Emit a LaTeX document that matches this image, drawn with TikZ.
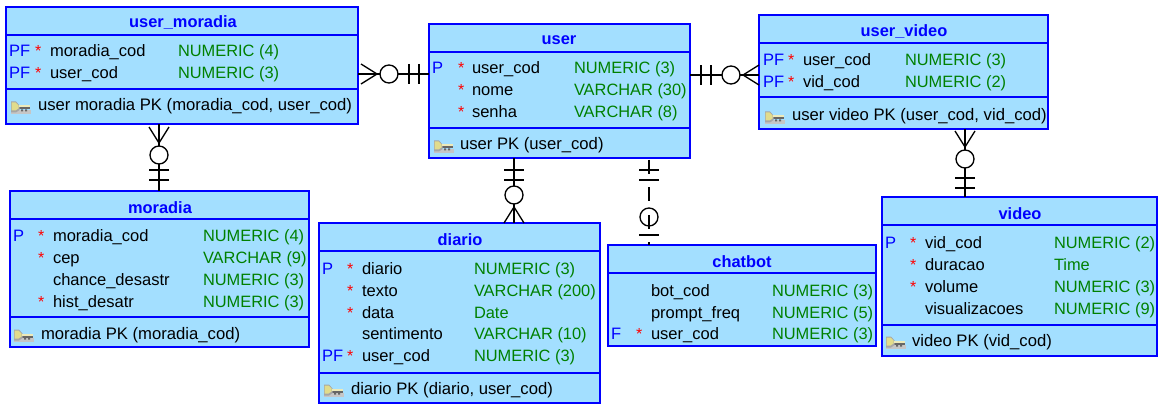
\documentclass[tikz,border=0pt]{standalone}
\usepackage{fontspec}
\setmainfont{Liberation Sans}
\definecolor{tblblue}{RGB}{0,0,255}
\definecolor{tblfill}{RGB}{163,223,255}
\definecolor{typegreen}{RGB}{0,128,0}
\definecolor{keygold}{RGB}{225,220,140}
\tikzset{
	txt/.style={inner sep=0, outer sep=0, font=\fontsize{12}{14}\selectfont},
	tblbox/.style={draw=tblblue, fill=tblfill, line width=1.5pt, inner sep=0, outer sep=0},
	tblsep/.style={draw=tblblue, line width=1.5pt},
	tblname/.style={txt, anchor=base, text=tblblue, font=\fontsize{12.3}{14}\selectfont\bfseries},
	tblkey/.style={txt, anchor=base west, text=tblblue, font=\fontsize{12.4}{14}\selectfont},
	tblstar/.style={txt, anchor=base west, text=red},
	tblcol/.style={txt, anchor=base west, font=\fontsize{12.4}{14}\selectfont},
	tbltype/.style={txt, anchor=base west, text=typegreen, font=\fontsize{12.3}{14}\selectfont},
	tblpk/.style={txt, anchor=base west, font=\fontsize{12.5}{14}\selectfont},
	link/.style={line width=1pt},
	manyend/.pic={
		\draw [link] (#1,-10) -- (#1+16,0) -- (#1,10);
		\draw [link, fill=white] (#1+28,0) circle [radius=9];
	},
	zeroend/.pic={
		\draw [link] (#1,0) circle [radius=9];
	},
	onebars/.pic={
		\draw [link] (-#1,-10) -- (-#1,10);
		\draw [link] (-#1-10,-10) -- (-#1-10,10);
	},
	onebar/.pic={
		\draw [link] (-#1,-10) -- (-#1,10);
	},
	keyicon/.pic={
		\fill [gray!45] (1,3) rectangle (21,7);
		\fill [black!60] (9,0.5) rectangle (20,2.5);
		\fill [black!60] (11,2.5) rectangle (13,4.5) (15,2.5) rectangle (17,4.5);
		\fill [gray!70] (1,-5.5) -- (6,-5.5) -- (9.5,-1.5) -- (9.5,3) -- (6,5.5) -- (1,5.5) -- cycle;
		\fill [keygold] (1.5,-4.5) -- (5.5,-4.5) -- (8.5,-1.5) -- (8.5,1.5) -- (5.5,3.5) -- (1.5,3.5) -- cycle;
		\fill [keygold!60!white] (8.5,-1.5) rectangle (20,0.5);
	}
}
%one table: name, left, top, right, bottom
\newcommand{\tblframe}[5]{
	\pgfmathsetmacro{\tblw}{(#4-#2)*0.75}
	\pgfmathsetmacro{\tblh}{(#5-#3)*0.75}
	\node [tblbox, minimum width=\tblw pt, minimum height=\tblh pt] (#1) at ({(#2+#4)/2}, {(#3+#5)/2}) {};
}
%separator of a table at height y
\newcommand{\tblline}[2]{
	\draw [tblsep] (#1.west |- 0,#2) -- (#1.east |- 0,#2);
}
%rows: name, x key, x star, x column, x type, list
\newcommand{\tblrows}[6]{
	\foreach \rk/\rs/\rc/\rt/\ry [count=\ri] in {#6}
	{
		\ifx\rk\empty\else\node [tblkey] (#1k\ri) at (#2, \ry) {\rk};\fi
		\ifx\rs\empty\else\node [tblstar] (#1s\ri) at (#3, \ry) {\rs};\fi
		\node [tblcol] (#1c\ri) at (#4, \ry) {\rc};
		\node [tbltype] (#1t\ri) at (#5, \ry) {\rt};
	}
}
\begin{document}
\begin{tikzpicture}[x=0.75pt, y=-0.75pt]
	\useasboundingbox (0,0) rectangle (1166,417);

	%user_moradia
	\tblframe{umor}{6}{7}{358}{124}
	\tblline{umor}{35}
	\tblline{umor}{89}
	\node [tblname] (umorname) at (183,28) {user\_moradia};
	\tblrows{umor}{9}{35}{50}{178}{PF/*/moradia\_cod/NUMERIC (4)/57, PF/*/user\_cod/NUMERIC (3)/79}
	\pic at (10,107) {keyicon};
	\node [tblpk] (umorpk) at (38,111) {user moradia PK (moradia\_cod, user\_cod)};

	%user
	\tblframe{user}{429}{24}{690}{158}
	\tblline{user}{52}
	\tblline{user}{128}
	\node [tblname] (username) at (559,45) {user};
	\tblrows{user}{432}{458}{472}{574}{P/*/user\_cod/NUMERIC (3)/74, /*/nome/VARCHAR (30)/96, /*/senha/VARCHAR (8)/118}
	\pic at (433,146) {keyicon};
	\node [tblpk] (userpk) at (460,150) {user PK (user\_cod)};

	%user_video
	\tblframe{uvid}{759}{15}{1048}{129}
	\tblline{uvid}{43}
	\tblline{uvid}{97}
	\node [tblname] (uvidname) at (904,37) {user\_video};
	\tblrows{uvid}{763}{788}{803}{905}{PF/*/user\_cod/NUMERIC (3)/66, PF/*/vid\_cod/NUMERIC (2)/88}
	\pic at (764,117) {keyicon};
	\node [tblpk] (uvidpk) at (792,121) {user video PK (user\_cod, vid\_cod)};

	%moradia
	\tblframe{mora}{10}{191}{309}{347}
	\tblline{mora}{219}
	\tblline{mora}{317}
	\node [tblname] (moraname) at (160,213) {moradia};
	\tblrows{mora}{13}{38}{53}{203}{P/*/moradia\_cod/NUMERIC (4)/241, /*/cep/VARCHAR (9)/263, //chance\_desastr/NUMERIC (3)/285, /*/hist\_desatr/NUMERIC (3)/307}
	\pic at (13,335) {keyicon};
	\node [tblpk] (morapk) at (41,339) {moradia PK (moradia\_cod)};

	%diario
	\tblframe{diar}{319}{223}{600}{403}
	\tblline{diar}{251}
	\tblline{diar}{373}
	\node [tblname] (diarname) at (460,245) {diario};
	\tblrows{diar}{322}{347}{362}{474}{P/*/diario/NUMERIC (3)/274, /*/texto/VARCHAR (200)/296, /*/data/Date/318, //sentimento/VARCHAR (10)/339, PF/*/user\_cod/NUMERIC (3)/361}
	\pic at (323,390) {keyicon};
	\node [tblpk] (diarpk) at (351,394) {diario PK (diario, user\_cod)};

	%chatbot
	\tblframe{chat}{608}{245}{876}{346}
	\tblline{chat}{273}
	\node [tblname] (chatname) at (742,267) {chatbot};
	\tblrows{chat}{611}{636}{651}{772}{//bot\_cod/NUMERIC (3)/296, //prompt\_freq/NUMERIC (5)/318, F/*/user\_cod/NUMERIC (3)/339}

	%video
	\tblframe{vide}{882}{197}{1157}{356}
	\tblline{vide}{225}
	\tblline{vide}{325}
	\node [tblname] (videname) at (1020,219) {video};
	\tblrows{vide}{885}{910}{925}{1054}{P/*/vid\_cod/NUMERIC (2)/248, /*/duracao/Time/270, /*/volume/NUMERIC (3)/292, //visualizacoes/NUMERIC (9)/314}
	\pic at (885,342) {keyicon};
	\node [tblpk] (videpk) at (912,346) {video PK (vid\_cod)};

	%links
	\draw [link] (umor.east |- 0,74) -- pic [pos=0, sloped, allow upside down] {manyend=3} pic [pos=1, sloped, allow upside down] {onebars=10} (user.west |- 0,74);
	\draw [link] (uvid.west |- 0,75) -- pic [pos=0, sloped, allow upside down] {manyend=0} pic [pos=1, sloped, allow upside down] {onebars=11} (user.east |- 0,75);
	\draw [link] (umor.south -| 159,0) -- pic [pos=0, sloped, allow upside down] {manyend=3} pic [pos=1, sloped, allow upside down] {onebars=11} (mora.north -| 159,0);
	\draw [link] (uvid.south -| 965,0) -- pic [pos=0, sloped, allow upside down] {manyend=2} pic [pos=1, sloped, allow upside down] {onebars=9} (vide.north -| 965,0);
	\draw [link] (diar.north -| 514,0) -- pic [pos=0, sloped, allow upside down] {manyend=0} pic [pos=1, sloped, allow upside down] {onebars=12} (user.south -| 514,0);
	%dashed one
	\path (chat.north -| 649,0) -- pic [pos=0, sloped, allow upside down] {zeroend=28} pic [pos=0, sloped, allow upside down] {onebar=-10} pic [pos=1, sloped, allow upside down] {onebars=12} (user.south -| 649,0);
	\draw [link, dash pattern=on 10.3pt off 10.3pt, dash phase=-1.5pt] (user.south -| 649,0) -- (chat.north -| 649,0);
\end{tikzpicture}
\end{document}
